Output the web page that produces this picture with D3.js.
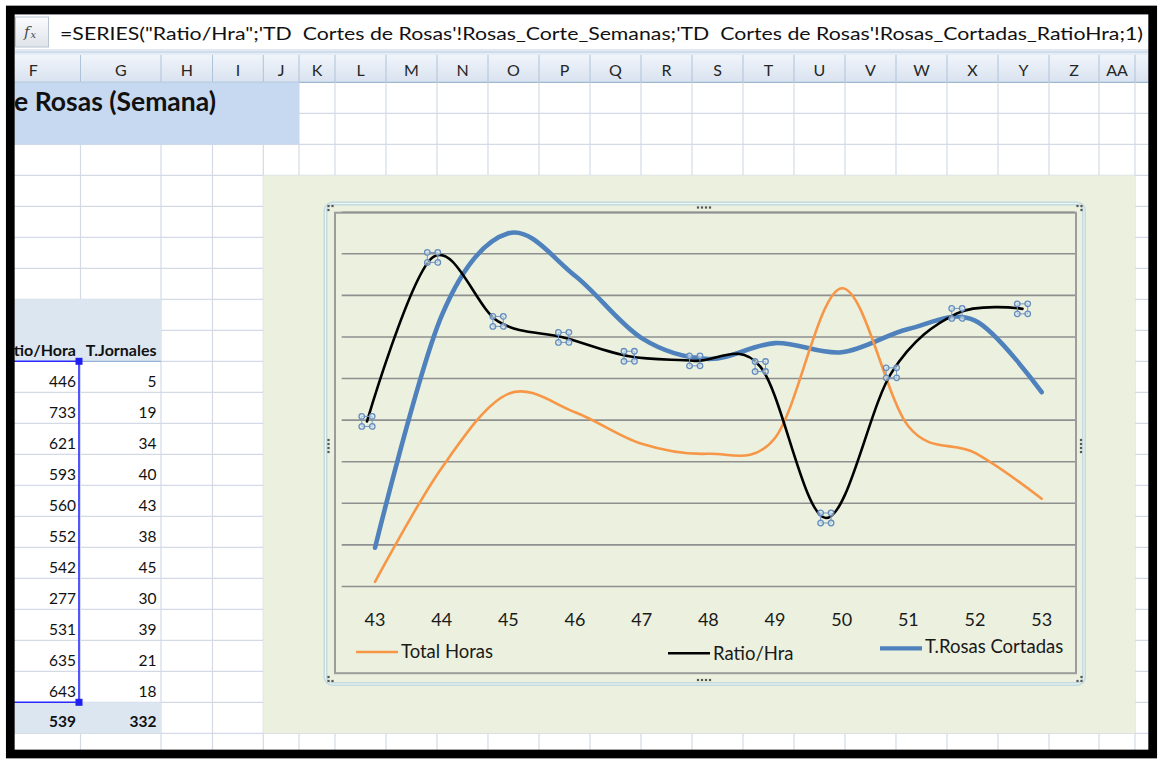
<!DOCTYPE html>
<html>
<head>
<meta charset="utf-8">
<script src="https://cdn.jsdelivr.net/npm/d3@7"></script>
<style>
  body { margin: 0; background: #ffffff; }
  svg { display: block; }
  text { font-family: Lato, "Open Sans", sans-serif; }
</style>
</head>
<body>
<svg id="sheet" width="1162" height="761"></svg>
<script>
// ---- data ----
const weeks = ["43", "44", "45", "46", "47", "48", "49", "50", "51", "52", "53"];
const totalHoras = [5, 142, 231, 209, 171, 159, 178, 358, 192, 160, 105];
const ratioHra = [446, 733, 621, 593, 560, 552, 542, 277, 531, 635, 643];
const rosasCortadas = [46, 325, 424, 373, 298, 273, 292, 281, 309, 319, 233];
const tJornales = [5, 19, 34, 40, 43, 38, 45, 30, 39, 21, 18];
const totalsRow = ["539", "332"];
const tableHeaders = ["Ratio/Hora", "T.Jornales"];
const seriesNames = ["Total Horas", "Ratio/Hra", "T.Rosas Cortadas"];
const sheetTitle = "Cortes de Rosas (Semana)";
const formulaText = "=SERIES(\"Ratio/Hra\";'TD  Cortes de Rosas'!Rosas_Corte_Semanas;'TD  Cortes de Rosas'!Rosas_Cortadas_RatioHra;1)";
const colLetters = ["F", "G", "H", "I", "J", "K", "L", "M", "N", "O", "P", "Q", "R", "S", "T", "U", "V", "W", "X", "Y", "Z", "AA", ""];

// ---- sheet layout ----
const W = 1162, H = 761;
const colEdges = [-14, 80.5, 161, 212.5, 263.3, 299, 335, 386, 437, 488, 539, 590, 641, 692, 743, 794, 845, 896, 947, 998, 1049, 1099, 1135, 1149];
const headerTop = 55, rowTop = 82.3, rowH = 31;
const rowY = r => rowTop + r * rowH;
const gridColor = "#d3dae6";

const svg = d3.select("#sheet");
const defs = svg.append("defs");

const hdrGrad = defs.append("linearGradient").attr("id", "hdrGrad").attr("x1", 0).attr("x2", 0).attr("y1", 0).attr("y2", 1);
hdrGrad.append("stop").attr("offset", "0%").attr("stop-color", "#f1f5fb");
hdrGrad.append("stop").attr("offset", "100%").attr("stop-color", "#d8e2ef");

const fxGrad = defs.append("linearGradient").attr("id", "fxGrad").attr("x1", 0).attr("x2", 0).attr("y1", 0).attr("y2", 1);
fxGrad.append("stop").attr("offset", "0%").attr("stop-color", "#fafbfd");
fxGrad.append("stop").attr("offset", "100%").attr("stop-color", "#dfe4ea");

defs.append("clipPath").attr("id", "viewClip")
  .append("rect").attr("x", 14).attr("y", 14).attr("width", 1135).attr("height", 740);

const sheet = svg.append("g").attr("clip-path", "url(#viewClip)");

// white page
sheet.append("rect").attr("x", 0).attr("y", 0).attr("width", W).attr("height", H).attr("fill", "#ffffff");

// formula bar
sheet.append("rect").attr("x", 14).attr("y", 14).attr("width", 1135).attr("height", 36)
  .attr("fill", "#ffffff").attr("stroke", "#c2cfdf").attr("stroke-width", 1);
sheet.append("rect").attr("x", 15.5).attr("y", 17).attr("width", 33).attr("height", 30)
  .attr("fill", "url(#fxGrad)").attr("stroke", "#b8c4d2").attr("stroke-width", 1);
sheet.append("text").attr("x", 24).attr("y", 37)
  .style("font-family", "'DejaVu Serif', serif").style("font-style", "italic")
  .style("font-size", "15px").attr("fill", "#4a4a4a").text("f");
sheet.append("text").attr("x", 30.5).attr("y", 38)
  .style("font-family", "'DejaVu Serif', serif").style("font-style", "italic")
  .style("font-size", "10px").attr("fill", "#4a4a4a").text("x");
const fText = sheet.append("text").attr("x", 60).attr("y", 40)
  .attr("xml:space", "preserve").style("white-space", "pre")
  .style("font-size", "18px").attr("fill", "#111").text(formulaText);
fText.attr("textLength", 1083).attr("lengthAdjust", "spacingAndGlyphs");

// strip between formula bar and column headers
sheet.append("rect").attr("x", 14).attr("y", 50).attr("width", 1135).attr("height", headerTop - 50)
  .attr("fill", "#e4ecf6");
sheet.append("line").attr("x1", 14).attr("x2", 1149).attr("y1", 52).attr("y2", 52).attr("stroke", "#b9cbe0");

// column headers
sheet.append("rect").attr("x", 14).attr("y", headerTop).attr("width", 1135).attr("height", rowTop - headerTop)
  .attr("fill", "url(#hdrGrad)");
colLetters.forEach((c, i) => {
  const x0 = colEdges[i], x1 = colEdges[i + 1];
  sheet.append("text").attr("x", (x0 + x1) / 2).attr("y", 76).attr("text-anchor", "middle")
    .style("font-size", "16px").attr("fill", "#262626").text(c);
});
colEdges.slice(1).forEach(x => {
  sheet.append("line").attr("x1", x).attr("x2", x).attr("y1", headerTop).attr("y2", rowTop)
    .attr("stroke", "#aec2d9").attr("stroke-width", 1);
});
sheet.append("line").attr("x1", 14).attr("x2", 1149).attr("y1", rowTop).attr("y2", rowTop)
  .attr("stroke", "#9fb6d0").attr("stroke-width", 1.2);

// cell grid
const nRows = 22;
colEdges.slice(1).forEach(x => {
  sheet.append("line").attr("x1", x).attr("x2", x).attr("y1", rowTop).attr("y2", H)
    .attr("stroke", gridColor).attr("stroke-width", 1.2);
});
d3.range(1, nRows + 1).forEach(r => {
  sheet.append("line").attr("x1", 14).attr("x2", 1149).attr("y1", rowY(r)).attr("y2", rowY(r))
    .attr("stroke", gridColor).attr("stroke-width", 1.2);
});

// merged title band (its text runs in from columns to the left)
sheet.append("rect").attr("x", 14).attr("y", rowY(0)).attr("width", colEdges[5] - 14).attr("height", rowH * 2)
  .attr("fill", "#c6d9f0");
sheet.append("text").attr("x", 216).attr("y", 111).attr("text-anchor", "end")
  .style("font-size", "26.5px").style("font-weight", "bold").attr("fill", "#111").text(sheetTitle);

// table header band
sheet.append("rect").attr("x", 14).attr("y", rowY(7)).attr("width", colEdges[2] - 14).attr("height", rowH * 2)
  .attr("fill", "#dce6f1");
tableHeaders.forEach((t, i) => {
  sheet.append("text").attr("x", colEdges[i + 1] - 4.5).attr("y", 355.5).attr("text-anchor", "end")
    .style("font-size", "16px").style("font-weight", "bold").attr("fill", "#111").text(t);
});
sheet.append("line").attr("x1", colEdges[1]).attr("x2", colEdges[2]).attr("y1", rowY(9)).attr("y2", rowY(9))
  .attr("stroke", "#95b3d7").attr("stroke-width", 1.2);

// table values
ratioHra.forEach((v, i) => {
  sheet.append("text").attr("x", colEdges[1] - 4.5).attr("y", rowY(10 + i) - 5.6).attr("text-anchor", "end")
    .style("font-size", "15.5px").attr("fill", "#111").text(v);
});
tJornales.forEach((v, i) => {
  sheet.append("text").attr("x", colEdges[2] - 4.5).attr("y", rowY(10 + i) - 5.6).attr("text-anchor", "end")
    .style("font-size", "15.5px").attr("fill", "#111").text(v);
});

// totals row
sheet.append("rect").attr("x", 14).attr("y", rowY(20)).attr("width", colEdges[2] - 14).attr("height", rowH)
  .attr("fill", "#dce6f1");
totalsRow.forEach((t, i) => {
  sheet.append("text").attr("x", colEdges[i + 1] - 4.5).attr("y", rowY(21) - 6.5).attr("text-anchor", "end")
    .style("font-size", "15.5px").style("font-weight", "bold").attr("fill", "#111").text(t);
});

// selected range outline
const selX = colEdges[1] - 1.5;
sheet.append("path")
  .attr("d", `M14,${rowY(9)}H${selX}V${rowY(20)}H14`)
  .attr("fill", "none").attr("stroke", "#2b2bff").attr("stroke-width", 1.6);
[rowY(9), rowY(20)].forEach(y => {
  sheet.append("rect").attr("x", selX - 3.5).attr("y", y - 3.5).attr("width", 7).attr("height", 7)
    .attr("fill", "#2020f0");
});

// ---- chart object ----
const chartBox = { x: colEdges[4], y: rowY(3), x2: colEdges[22], y2: rowY(21) };
const chart = sheet.append("g");
chart.append("rect").attr("x", chartBox.x).attr("y", chartBox.y)
  .attr("width", chartBox.x2 - chartBox.x).attr("height", chartBox.y2 - chartBox.y)
  .attr("fill", "#ebf1de");

const plot = { left: 341.7, right: 1075, top: 211.7, bottom: 586 };

// selection frame around the plot area
chart.append("rect").attr("x", 325.5).attr("y", 203.5).attr("width", 758.5).attr("height", 480.5)
  .attr("rx", 7).attr("fill", "none").attr("stroke", "#c3dadf").attr("stroke-width", 4);
chart.append("rect").attr("x", 325.5).attr("y", 203.5).attr("width", 758.5).attr("height", 480.5)
  .attr("rx", 7).attr("fill", "none").attr("stroke", "#eef6f6").attr("stroke-width", 1);
chart.append("rect").attr("x", 335).attr("y", 212.7).attr("width", 741).attr("height", 460.5)
  .attr("fill", "none").attr("stroke", "#9c9c9c").attr("stroke-width", 2);

// handle dots
const dots = [];
[698, 702, 706, 710].forEach(x => { dots.push([x, 207.5]); dots.push([x, 680]); });
[440, 444, 448, 452].forEach(y => { dots.push([328.5, y]); dots.push([1081, y]); });
[[328.5, 206], [332.5, 206], [328.5, 210], [1077.5, 206], [1081.5, 206], [1081.5, 210],
 [328.5, 677], [328.5, 681], [332.5, 681], [1081.5, 677], [1081.5, 681], [1077.5, 681]].forEach(d => dots.push(d));
chart.selectAll("rect.dot").data(dots).join("rect").attr("class", "dot")
  .attr("x", d => d[0] - 1.1).attr("y", d => d[1] - 1.1).attr("width", 2.2).attr("height", 2.2)
  .attr("fill", "#555");

// scales
const xCat = d3.scaleBand().domain(weeks).range([plot.left, plot.right]);
const xMid = d => xCat(d) + xCat.bandwidth() / 2;
const xSec = d3.scalePoint().domain(weeks).range([plot.left + 25.3, plot.right - 52.5]);
const yPrim = d3.scaleLinear().domain([0, 450]).range([plot.bottom, plot.top]);
const ySec = d3.scaleLinear().domain([158, 813]).range([plot.bottom, plot.top]);

// horizontal gridlines
const gridAxis = d3.axisLeft(yPrim).tickValues(d3.range(0, 451, 50))
  .tickSize(-(plot.right - plot.left)).tickFormat("");
const gg = chart.append("g").attr("transform", `translate(${plot.left},0)`).call(gridAxis);
gg.select(".domain").remove();
gg.selectAll(".tick line").attr("stroke", "#8f8f8f").attr("stroke-width", 1.6);

// category axis labels
const xAxis = d3.axisBottom(xCat).tickSize(0).tickPadding(27);
const xg = chart.append("g").attr("transform", `translate(0,${plot.bottom})`).call(xAxis);
xg.select(".domain").remove();
xg.selectAll(".tick text").style("font-family", "Lato, sans-serif").style("font-size", "18px")
  .attr("fill", "#1a1a1a");

// series lines
const smooth = d3.curveCardinal.tension(0);
const linePrim = d3.line().x((d, i) => xMid(weeks[i])).y(d => yPrim(d)).curve(smooth);
const lineSec = d3.line().x((d, i) => xSec(weeks[i])).y(d => ySec(d)).curve(smooth);

chart.append("path").datum(rosasCortadas).attr("d", linePrim)
  .attr("fill", "none").attr("stroke", "#4f81bd").attr("stroke-width", 4.6).attr("stroke-linecap", "round");
chart.append("path").datum(totalHoras).attr("d", linePrim)
  .attr("fill", "none").attr("stroke", "#f79646").attr("stroke-width", 2.6).attr("stroke-linecap", "round");
chart.append("path").datum(ratioHra).attr("d", lineSec)
  .attr("fill", "none").attr("stroke", "#000").attr("stroke-width", 2.6).attr("stroke-linecap", "round");

// selection markers on the Ratio/Hra series
const mk = chart.selectAll("g.mk").data(ratioHra).join("g").attr("class", "mk")
  .attr("transform", (d, i) => `translate(${xSec(weeks[i])},${ySec(d)})`);
mk.append("path").attr("d", "M-5.2,-5H5.2M-5.2,5H5.2M-5.2,-5V5M5.2,-5V5")
  .attr("stroke", "#7096c2").attr("stroke-width", 1);
[[-5.2, -5], [5.2, -5], [-5.2, 5], [5.2, 5]].forEach(p => {
  mk.append("circle").attr("cx", p[0]).attr("cy", p[1]).attr("r", 2.8)
    .attr("fill", "#dbe6ee").attr("fill-opacity", 0.6)
    .attr("stroke", "#648dbd").attr("stroke-width", 1.3);
});

// legend
const legend = [
  { name: seriesNames[0], color: "#f79646", width: 2.6, x: 356, lineY: 652, textY: 658 },
  { name: seriesNames[1], color: "#000000", width: 2.6, x: 668, lineY: 653.3, textY: 660 },
  { name: seriesNames[2], color: "#4f81bd", width: 4.2, x: 880, lineY: 648.3, textY: 653.3 }
];
const lg = chart.selectAll("g.lg").data(legend).join("g").attr("class", "lg");
lg.append("line").attr("x1", d => d.x).attr("x2", d => d.x + 42).attr("y1", d => d.lineY).attr("y2", d => d.lineY)
  .attr("stroke", d => d.color).attr("stroke-width", d => d.width);
lg.append("text").attr("x", d => d.x + 45).attr("y", d => d.textY)
  .style("font-size", "18.5px").attr("fill", "#1a1a1a").text(d => d.name);

// ---- window frame ----
svg.append("rect").attr("x", 10.3).attr("y", 10).attr("width", 1142.4).attr("height", 744)
  .attr("fill", "none").attr("stroke", "#000").attr("stroke-width", 8.7);
</script>
</body>
</html>
